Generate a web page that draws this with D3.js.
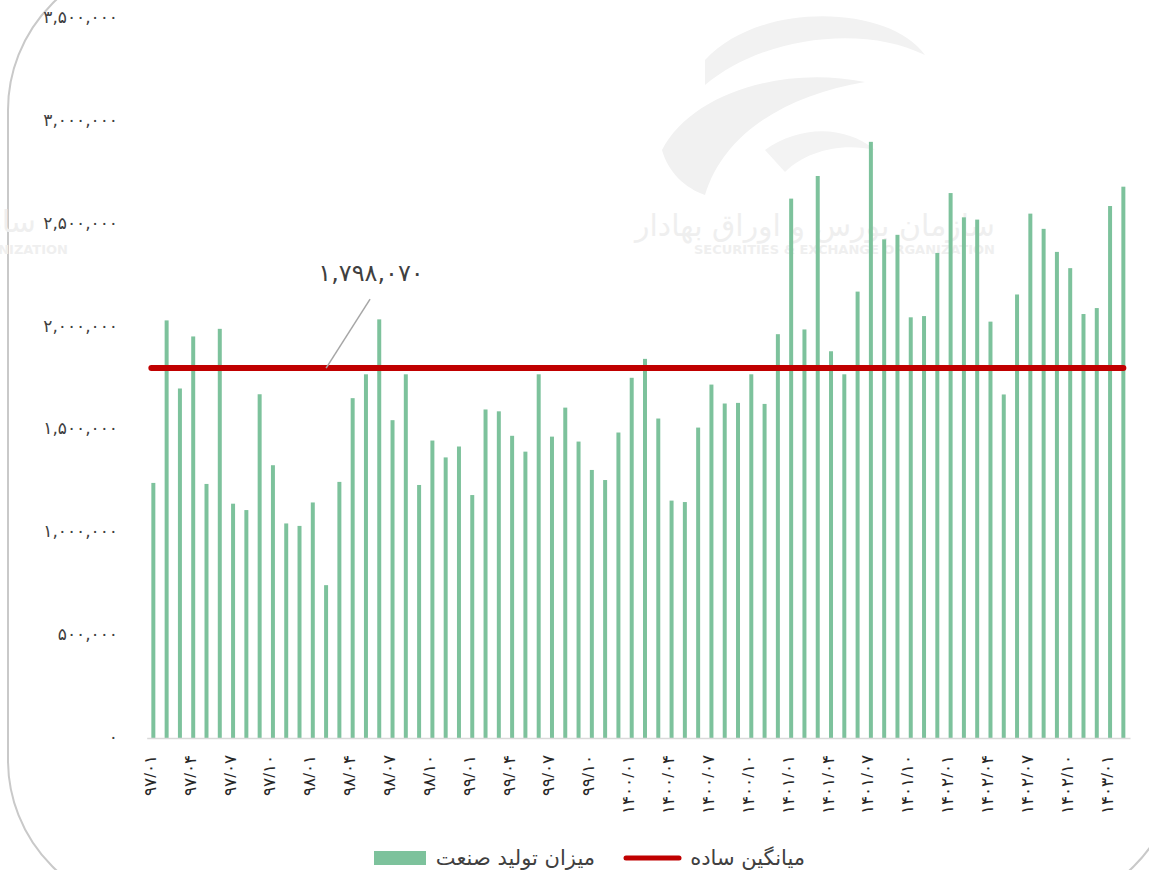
<!DOCTYPE html>
<html>
<head>
<meta charset="utf-8">
<script src="https://cdn.jsdelivr.net/npm/d3@7"></script>
<style>
  html, body { margin: 0; padding: 0; background: #ffffff; }
  svg { display: block; font-family: "DejaVu Sans", "Noto Sans", sans-serif; }
</style>
</head>
<body>
<svg id="chart" width="1149" height="870"></svg>
<script>
// ---------- DATA ----------
const categories = [
  "97/01","97/02","97/03","97/04","97/05","97/06","97/07","97/08","97/09","97/10","97/11","97/12",
  "98/01","98/02","98/03","98/04","98/05","98/06","98/07","98/08","98/09","98/10","98/11","98/12",
  "99/01","99/02","99/03","99/04","99/05","99/06","99/07","99/08","99/09","99/10","99/11","99/12",
  "1400/01","1400/02","1400/03","1400/04","1400/05","1400/06","1400/07","1400/08","1400/09","1400/10","1400/11","1400/12",
  "1401/01","1401/02","1401/03","1401/04","1401/05","1401/06","1401/07","1401/08","1401/09","1401/10","1401/11","1401/12",
  "1402/01","1402/02","1402/03","1402/04","1402/05","1402/06","1402/07","1402/08","1402/09","1402/10","1402/11","1402/12",
  "1403/01","1403/02"
];
const production = [
  1240000, 2030000, 1699000, 1952000, 1235000, 1989000, 1139000, 1108000, 1671000, 1326000, 1043000, 1031000,
  1145000,  743000, 1245000, 1652000, 1768000, 2035000, 1545000, 1768000, 1230000, 1446000, 1364000, 1417000,
  1181000, 1597000, 1588000, 1469000, 1392000, 1768000, 1465000, 1606000, 1441000, 1303000, 1254000, 1485000,
  1751000, 1843000, 1553000, 1154000, 1147000, 1509000, 1718000, 1626000, 1629000, 1768000, 1624000, 1963000,
  2622000, 1986000, 2732000, 1880000, 1768000, 2170000, 2898000, 2424000, 2446000, 2045000, 2051000, 2358000,
  2649000, 2531000, 2520000, 2024000, 1670000, 2156000, 2549000, 2475000, 2363000, 2284000, 2061000, 2090000,
  2586000, 2680000
];
const simpleAverage = 1798070;
const yTicks = [0, 500000, 1000000, 1500000, 2000000, 2500000, 3000000, 3500000];
const seriesNames = ["میزان تولید صنعت", "میانگین ساده"];
const watermarkFa = "سازمان بورس و اوراق بهادار";
const watermarkEn = "SECURITIES & EXCHANGE ORGANIZATION";

// ---------- HELPERS ----------
const faDigits = "۰۱۲۳۴۵۶۷۸۹";
const toFa = s => String(s).replace(/[0-9]/g, d => faDigits[+d]);
const fmt = v => toFa(d3.format(",")(v));

const svg = d3.select("#chart");
const barColor = "#7dc29c";
const lineColor = "#c00000";

// ---------- BACKGROUND / WATERMARK ----------
svg.append("path")
  .attr("d", "M 158 -40 A 150 150 0 0 0 8 110 L 8 760 A 150 150 0 0 0 158 910 L 1028 910 A 150 150 0 0 0 1178 760")
  .attr("fill", "none").attr("stroke", "#c9c9c9").attr("stroke-width", 2);

const wm = svg.append("g");
wm.append("path").attr("d", "M 705 60 C 760 0, 890 5, 925 55 C 865 25, 765 35, 705 85 Z").attr("fill", "#f2f2f2");
wm.append("path").attr("d", "M 662 150 C 690 95, 780 65, 865 82 C 790 95, 725 130, 705 195 C 685 188, 668 172, 662 150 Z").attr("fill", "#f1f1f1");
wm.append("path").attr("d", "M 765 150 C 800 125, 845 125, 875 150 C 840 142, 805 152, 785 172 Z").attr("fill", "#f3f3f3");
wm.append("text").attr("x", 995).attr("y", 236).attr("text-anchor", "end")
  .attr("font-size", 30).attr("fill", "#efefef").text(watermarkFa);
wm.append("text").attr("x", 995).attr("y", 254).attr("text-anchor", "end")
  .attr("font-size", 13).attr("font-weight", "bold").attr("fill", "#efefef").text(watermarkEn);
wm.append("text").attr("x", 36).attr("y", 232).attr("text-anchor", "end")
  .attr("font-size", 30).attr("fill", "#efefef").text(watermarkFa);
wm.append("text").attr("x", 68).attr("y", 254).attr("text-anchor", "end")
  .attr("font-size", 13).attr("font-weight", "bold").attr("fill", "#efefef").text(watermarkEn);

// ---------- SCALES ----------
const x = d3.scaleBand().domain(d3.range(categories.length))
  .range([146.7, 1130]).paddingInner(0.7).paddingOuter(0.35);
const y = d3.scaleLinear().domain([0, 3500000]).range([738, 18]);

// ---------- Y AXIS LABELS ----------
const yAxis = d3.axisLeft(y).tickValues(yTicks).tickSize(0).tickPadding(0).tickFormat(fmt);
const gy = svg.append("g").attr("transform", "translate(118,-1)").call(yAxis);
gy.select(".domain").remove();
gy.selectAll("text").attr("font-size", 17).attr("fill", "#404040")
  .attr("font-family", "'DejaVu Sans', sans-serif");

// ---------- BARS ----------
svg.append("g").selectAll("rect").data(production).join("rect")
  .attr("x", (d, i) => x(i)).attr("width", x.bandwidth())
  .attr("y", d => y(d)).attr("height", d => y(0) - y(d))
  .attr("fill", barColor);

// ---------- X AXIS ----------
const xAxis = d3.axisBottom(x).tickSize(0).tickPadding(0)
  .tickValues(d3.range(0, categories.length, 3))
  .tickFormat(i => toFa(categories[i]));
const gx = svg.append("g").attr("transform", `translate(0,${y(0)})`).call(xAxis);
gx.select(".domain").attr("stroke", "#d9d9d9").attr("stroke-width", 1.5);
gx.selectAll("text")
  .attr("font-size", 17).attr("fill", "#262626")
  .attr("text-anchor", "end").attr("dy", null)
  .attr("dominant-baseline", "central")
  .attr("transform", "translate(-3,17) rotate(-90)")
  .attr("y", 0).attr("x", 0);

// ---------- AVERAGE LINE ----------
svg.append("line")
  .attr("x1", x(0) + x.bandwidth() / 2 - 2).attr("x2", x(categories.length - 1) + x.bandwidth() / 2)
  .attr("y1", y(simpleAverage)).attr("y2", y(simpleAverage))
  .attr("stroke", lineColor).attr("stroke-width", 6).attr("stroke-linecap", "round");

// annotation
const annX = x(13) + x.bandwidth() / 2;
svg.append("line")
  .attr("x1", annX).attr("y1", y(simpleAverage))
  .attr("x2", annX + 44).attr("y2", y(simpleAverage) - 69)
  .attr("stroke", "#a6a6a6").attr("stroke-width", 1.5);
svg.append("text").attr("x", 371).attr("y", 281).attr("text-anchor", "middle")
  .attr("font-size", 24).attr("fill", "#404040").text(fmt(simpleAverage));

// ---------- LEGEND ----------
const lg = svg.append("g");
lg.append("rect").attr("x", 374).attr("y", 851).attr("width", 52).attr("height", 14).attr("fill", barColor);
lg.append("text").attr("x", 595).attr("y", 865).attr("text-anchor", "end")
  .attr("font-size", 21).attr("fill", "#404040").text(seriesNames[0]);
lg.append("line").attr("x1", 626).attr("x2", 679).attr("y1", 858).attr("y2", 858)
  .attr("stroke", lineColor).attr("stroke-width", 5).attr("stroke-linecap", "round");
lg.append("text").attr("x", 805).attr("y", 865).attr("text-anchor", "end")
  .attr("font-size", 21).attr("fill", "#404040").text(seriesNames[1]);
</script>
</body>
</html>
